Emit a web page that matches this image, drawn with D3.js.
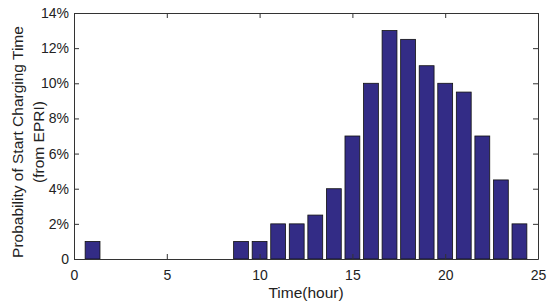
<!DOCTYPE html>
<html lang="en">
<head>
<meta charset="UTF-8">
<title>Start Charging Time</title>
<script src="https://d3js.org/d3.v7.min.js"></script>
<style>
  body { margin: 0; background: #fff; }
  svg { display: block; font-family: 'Liberation Sans', Arial, sans-serif; }
  .tick text { font-size: 14px; fill: #222; }
  .label { font-size: 15.5px; fill: #222; }
</style>
</head>
<body>
<svg id="chart" width="550" height="306"></svg>
<script>
// hour of day and share of vehicles starting to charge (%)
const hours = [1, 9, 10, 11, 12, 13, 14, 15, 16, 17, 18, 19, 20, 21, 22, 23, 24];
const probs = [1, 1, 1, 2, 2, 2.5, 4, 7, 10, 13, 12.5, 11, 10, 9.5, 7, 4.5, 2];
const xTicks = [0, 5, 10, 15, 20, 25];
const yTicks = [0, 2, 4, 6, 8, 10, 12, 14];

const svg = d3.select("#chart");
const plotL = 74, plotR = 538, plotT = 13, plotB = 259;

const x = d3.scaleLinear().domain([0, 25]).range([plotL, plotR]);
const y = d3.scaleLinear().domain([0, 14]).range([plotB, plotT]);
const barW = x(0.8) - x(0);

// bars
svg.append("g").selectAll("rect")
  .data(hours.map((h, i) => ({ h, p: probs[i] })))
  .enter().append("rect")
  .attr("x", d => x(d.h) - barW / 2)
  .attr("y", d => y(d.p))
  .attr("width", barW)
  .attr("height", d => y(0) - y(d.p))
  .attr("fill", "#332c86")
  .attr("stroke", "#111")
  .attr("stroke-width", 0.8);

// axes, ticks pointing inward like matlab
const fmtY = d => d === 0 ? "0" : d + "%";
const axisColor = "#333";

const xAxis = svg.append("g").attr("transform", `translate(0,${plotB})`)
  .call(d3.axisBottom(x).tickValues(xTicks).tickSizeInner(-5).tickSizeOuter(0).tickPadding(11));
const yAxis = svg.append("g").attr("transform", `translate(${plotL},0)`)
  .call(d3.axisLeft(y).tickValues(yTicks).tickFormat(fmtY).tickSizeInner(-5).tickSizeOuter(0).tickPadding(5));
const xTop = svg.append("g").attr("transform", `translate(0,${plotT})`)
  .call(d3.axisTop(x).tickValues(xTicks).tickSizeInner(-5).tickSizeOuter(0).tickFormat(""));
const yRight = svg.append("g").attr("transform", `translate(${plotR},0)`)
  .call(d3.axisRight(y).tickValues(yTicks).tickSizeInner(-5).tickSizeOuter(0).tickFormat(""));

[xAxis, yAxis, xTop, yRight].forEach(g => {
  g.selectAll("path, line").attr("stroke", axisColor);
  g.select(".domain").attr("stroke-width", 1);
});

// axis labels
svg.append("text").attr("class", "label")
  .attr("x", (plotL + plotR) / 2).attr("y", 298)
  .attr("text-anchor", "middle")
  .text("Time(hour)");

const yl = svg.append("text").attr("class", "label")
  .attr("transform", `translate(23,${(plotT + plotB) / 2 + 6}) rotate(-90)`)
  .attr("text-anchor", "middle");
yl.append("tspan").attr("x", 0).attr("dy", 0).text("Probability of Start Charging Time");
yl.append("tspan").attr("x", 0).attr("dy", 21).text("(from EPRI)");
</script>
</body>
</html>
